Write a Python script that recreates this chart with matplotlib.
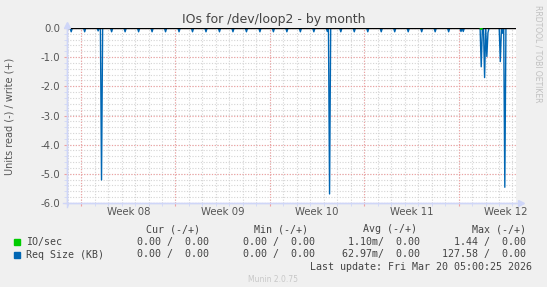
import numpy as np
import matplotlib
matplotlib.use("Agg")
import matplotlib.pyplot as plt
from matplotlib.lines import Line2D

W, H = 547, 287

# x axis is in days since the left edge of the graph
span_days = 33.33
week_starts = [1.07, 8.07, 15.07, 22.07, 29.07]
week_labels = ["Week 08", "Week 09", "Week 10", "Week 11", "Week 12"]

# Req Size (KB), read side (negative): small daily blips and a few spikes
blip_days = [0.35, 1.33, 2.36, 3.34, 4.35, 5.33, 6.34, 7.35, 8.33, 9.33, 10.34,
             11.34, 12.35, 13.33, 14.34, 15.35, 16.33, 17.33, 18.34, 19.32, 20.33,
             21.33, 22.31, 23.32, 24.33, 25.31, 26.31, 27.32, 28.33, 29.22, 29.40,
             31.29, 32.34]
blip_vals = [-0.13, -0.13, -0.10, -0.13, -0.13, -0.13, -0.13, -0.13, -0.13, -0.13,
             -0.13, -0.13, -0.13, -0.13, -0.13, -0.13, -0.13, -0.13, -0.13, -0.12,
             -0.13, -0.13, -0.13, -0.13, -0.13, -0.13, -0.13, -0.13, -0.13, -0.12,
             -0.12, -0.16, -0.18]
spike_days = [2.55, 19.5, 30.79, 31.01, 31.16, 32.17, 32.47]
spike_vals = [-5.21, -5.69, -1.33, -1.70, -0.98, -1.15, -5.46]

# IO/sec, read side
io_days = [30.75]
io_vals = [-0.05]

# legend table
legend_names = ["IO/sec", "Req Size (KB)"]
legend_colors = ["#00cc00", "#0066b3"]
cur = ["0.00 /  0.00", "0.00 /  0.00"]
mins = ["0.00 /  0.00", "0.00 /  0.00"]
avgs = ["1.10m/  0.00", "62.97m/  0.00"]
maxs = ["1.44 /  0.00", "127.58 /  0.00"]


def build(days, vals, step=1 / 12):
    t = np.arange(0, span_days + step, step)
    v = np.zeros_like(t)
    for d, val in zip(days, vals):
        i = int(round(d / step))
        v[i] = min(v[i], val)
    return t, v


fig = plt.figure(figsize=(W / 100, H / 100), dpi=100, facecolor="#f0f0f0")
x0, x1, y0, y1 = 66.7, 516, 28, 203
ax = fig.add_axes([x0 / W, 1 - y1 / H, (x1 - x0) / W, (y1 - y0) / H])
ax.set_facecolor("white")
ax.set_xlim(0, span_days)
ax.set_ylim(-6, 0)

# grid
for d in np.arange(0.07, span_days, 1.0):
    ax.axvline(d, color="#d4d4d4", lw=0.8, ls=(0, (1, 1.5)), zorder=0)
for y in np.arange(-6, 0.01, 0.2):
    ax.axhline(y, color="#d4d4d4", lw=0.8, ls=(0, (1, 1.5)), zorder=0)
for d in week_starts:
    ax.axvline(d, color="#f0a0a0", lw=0.8, ls=(0, (1, 1.5)), zorder=0.5)
for y in range(-6, 1):
    ax.axhline(y, color="#f0a0a0", lw=0.8, ls=(0, (1, 1.5)), zorder=0.5)

t, rs = build(blip_days + spike_days, blip_vals + spike_vals)
t2, io = build(io_days, io_vals)
# only show the green line where it leaves zero
near = np.convolve(io != 0, [1, 1, 1], mode="same") > 0
io = np.where(near, io, np.nan)
ax.plot(t, rs, color="#0066b3", lw=1.0, zorder=3)
ax.axhline(0, color="black", lw=1.0, zorder=4)
ax.plot(t2, io, color="#00cc00", lw=1.0, zorder=5)

for s in ["top", "right"]:
    ax.spines[s].set_visible(False)
for s in ["left", "bottom"]:
    ax.spines[s].set_color("#cfd6f8")
    ax.spines[s].set_linewidth(1.0)

ax.set_yticks(range(-6, 1))
ax.set_yticklabels(["-6.0", "-5.0", "-4.0", "-3.0", "-2.0", "-1.0", "0.0"])
ax.set_yticks(np.arange(-6, 0.01, 0.2), minor=True)
ax.set_xticks(week_starts)
ax.set_xticklabels([])
ax.set_xticks(np.arange(0.07, span_days, 1.0), minor=True)
ax.tick_params(which="major", length=2, color="#f0a0a0", labelsize=7.3,
               labelcolor="#555555", pad=2.5)
ax.tick_params(which="minor", length=2, color="#cfd6f8")

for d, lab in zip(week_starts, week_labels):
    ax.text(d + 3.5, -6.3, lab, ha="center", va="center", fontsize=7.3,
            color="#555555", clip_on=False)


def fx(px):
    return px / W


def fy(py):
    return 1 - py / H


# axis extensions with arrows
fig.add_artist(Line2D([fx(x0), fx(x0)], [fy(y1 + 4), fy(y0 - 4)], color="#cfd6f8", lw=1))
fig.add_artist(Line2D([fx(x0 - 4), fx(x1 + 4)], [fy(y1), fy(y1)], color="#cfd6f8", lw=1))
fig.add_artist(Line2D([fx(x0)], [fy(24.5)], marker="^", ms=5, color="#cfd6f8", lw=0))
fig.add_artist(Line2D([fx(521)], [fy(y1)], marker=">", ms=5, color="#cfd6f8", lw=0))

fig.text(0.5, fy(19), "IOs for /dev/loop2 - by month", ha="center", va="center",
         fontsize=9, color="#444444")
fig.text(fx(10), fy(116), "Units read (-) / write (+)", rotation=90, ha="center",
         va="center", fontsize=7, color="#555555")
fig.text(fx(538), fy(5), "RRDTOOL / TOBI OETIKER", rotation=270, ha="center",
         va="top", fontsize=5.5, color="#c0c0c0")

mono = dict(family="DejaVu Sans Mono", fontsize=7.2, color="#444444", va="center")
for px, lab in zip([200, 308, 417, 526], ["Cur (-/+)", "Min (-/+)", "Avg (-/+)", "Max (-/+)"]):
    fig.text(fx(px), fy(229), lab, ha="right", **mono)
for i, py in enumerate([242.3, 254.5]):
    fig.add_artist(Line2D([fx(17)], [fy(py)], marker="s", ms=4.5, color=legend_colors[i], lw=0))
    fig.text(fx(26), fy(py), legend_names[i], ha="left", **mono)
    fig.text(fx(209), fy(py), cur[i], ha="right", **mono)
    fig.text(fx(314.6), fy(py), mins[i], ha="right", **mono)
    fig.text(fx(420.5), fy(py), avgs[i], ha="right", **mono)
    fig.text(fx(526), fy(py), maxs[i], ha="right", **mono)
fig.text(fx(532), fy(266.7), "Last update: Fri Mar 20 05:00:25 2026", ha="right", **mono)
fig.text(fx(272.5), fy(280), "Munin 2.0.75", ha="center", va="center", fontsize=5.5,
         color="#c8c8c8")

fig.savefig("out.png", dpi=100, facecolor=fig.get_facecolor())
